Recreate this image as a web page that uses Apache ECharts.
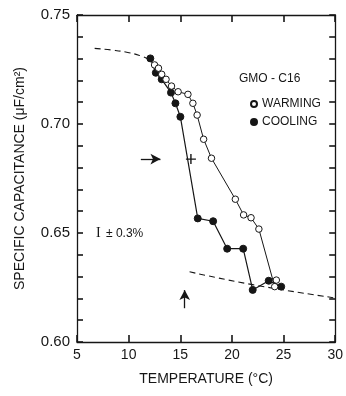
<!DOCTYPE html>
<html>
<head>
<meta charset="utf-8">
<script src="https://cdn.jsdelivr.net/npm/echarts@6/dist/echarts.min.js"></script>
<style>
  html, body { margin: 0; padding: 0; background: #fff; }
  #chart { width: 346px; height: 396px; }
</style>
</head>
<body>
<div id="chart"></div>
<script>
// temperature (C), specific capacitance (uF/cm2)
const warming = [
  [12.51, 0.7271], [12.89, 0.7256], [13.2, 0.7228], [13.62, 0.7205], [14.15, 0.7174],
  [14.79, 0.7148], [15.74, 0.7136], [16.22, 0.7095], [16.63, 0.7041], [17.26, 0.693],
  [18.02, 0.6843], [20.33, 0.6655], [21.13, 0.6583], [21.85, 0.657], [22.61, 0.6518],
  [24.14, 0.6254], [24.3, 0.6284]
]
const cooling = [
  [12.1, 0.7301], [12.63, 0.7235], [13.2, 0.7205], [14.1, 0.7144], [14.53, 0.7095],
  [15.01, 0.7033], [16.69, 0.6567], [18.18, 0.6554], [19.54, 0.6428], [21.09, 0.6428],
  [22.01, 0.6239], [23.56, 0.6281], [24.77, 0.6254]
]
const upperDashed = [[6.71, 0.7347], [8.45, 0.7339], [10.04, 0.7327], [11.15, 0.7313], [11.78, 0.7301]]
const lowerDashed = [[15.9, 0.6322], [22.0, 0.6263], [30.0, 0.6202]]
const crossPoint = [[16.03, 0.6839]]
const arrowRight = [[11.18, 0.6839], [13.08, 0.6839]]
const arrowUp = [[15.43, 0.6155], [15.43, 0.6238]]
const xTicks = [5, 10, 15, 20, 25, 30]
const yLabels = [0.6, 0.65, 0.7, 0.75]

const ink = '#161616'
const font = 'Liberation Sans'
const chart = echarts.init(document.getElementById('chart'))

// ticks point into the plot on all four sides
function xAxisBase() {
  return {
    type: 'value', min: 5, max: 30, interval: 5,
    axisLine: { show: true, lineStyle: { color: ink, width: 1.3 } },
    axisTick: { show: true, inside: true, length: 7, lineStyle: { color: ink, width: 1.6 } },
    splitLine: { show: false }
  }
}
function yAxisBase() {
  return {
    type: 'value', min: 0.6, max: 0.75, interval: 0.01,
    axisLine: { show: true, lineStyle: { color: ink, width: 1.3 } },
    axisTick: { show: true, inside: true, length: 6, lineStyle: { color: ink, width: 1.6 } },
    splitLine: { show: false }
  }
}

const option = {
  animation: false,
  grid: { left: 77, right: 6, top: 15, bottom: 54 },
  xAxis: [
    Object.assign(xAxisBase(), {
      position: 'bottom',
      name: 'TEMPERATURE (°C)', nameLocation: 'middle', nameGap: 30,
      nameTextStyle: { fontSize: 14, color: ink, fontFamily: font },
      axisLabel: {
        margin: 6, fontSize: 14, color: ink, fontFamily: font,
        formatter: v => (xTicks.includes(v) ? String(v) : '')
      }
    }),
    Object.assign(xAxisBase(), { position: 'top', axisLabel: { show: false } })
  ],
  yAxis: [
    Object.assign(yAxisBase(), {
      position: 'left',
      name: 'SPECIFIC CAPACITANCE (μF/cm²)', nameLocation: 'middle', nameGap: 50,
      nameTextStyle: { fontSize: 14, color: ink, fontFamily: font },
      axisLabel: {
        margin: 7, fontSize: 15, color: ink, fontFamily: font,
        formatter: v => {
          const hit = yLabels.find(l => Math.abs(l - v) < 1e-6)
          return hit !== undefined ? hit.toFixed(2) : ''
        }
      }
    }),
    Object.assign(yAxisBase(), { position: 'right', axisLabel: { show: false } })
  ],
  legend: {
    orient: 'vertical', left: 245, top: 93, itemGap: 6,
    itemWidth: 6, itemHeight: 6, icon: 'circle',
    textStyle: { fontSize: 12, color: ink, fontFamily: font },
    data: ['WARMING', 'COOLING']
  },
  graphic: [
    { type: 'text', left: 239, top: 73, style: { text: 'GMO - C16', font: '12px "Liberation Sans"', fill: ink } },
    { type: 'text', left: 96, top: 226, style: { text: 'I', font: '14px "Liberation Serif"', fill: ink } },
    { type: 'text', left: 106, top: 228, style: { text: '± 0.3%', font: '12px "Liberation Sans"', fill: ink } }
  ],
  series: [
    {
      name: 'upper', type: 'line', data: upperDashed, symbol: 'none', smooth: true,
      lineStyle: { color: ink, width: 1.1, type: [6, 4] }, silent: true, z: 1
    },
    {
      name: 'lower', type: 'line', data: lowerDashed, symbol: 'none', smooth: true,
      lineStyle: { color: ink, width: 1.1, type: [6, 4] }, silent: true, z: 1
    },
    {
      name: 'WARMING', type: 'line', data: warming,
      symbol: 'circle', symbolSize: 6.5,
      itemStyle: { color: '#fff', borderColor: ink, borderWidth: 1 },
      lineStyle: { color: ink, width: 1 }, z: 3
    },
    {
      name: 'COOLING', type: 'line', data: cooling,
      symbol: 'circle', symbolSize: 7,
      itemStyle: { color: ink, borderColor: ink, borderWidth: 1 },
      lineStyle: { color: ink, width: 1.2 }, z: 2
    },
    {
      name: 'cross', type: 'scatter', data: crossPoint,
      symbol: 'path://M4.3,0h1.4v4.3h4.3v1.4h-4.3v4.3h-1.4v-4.3h-4.3v-1.4h4.3z', symbolSize: 10,
      itemStyle: { color: ink, opacity: 1 }, z: 4
    },
    {
      name: 'arrows', type: 'line', data: [], symbol: 'none',
      markLine: {
        silent: true, symbol: ['none', 'arrow'], symbolSize: [8, 10],
        label: { show: false },
        lineStyle: { color: ink, width: 1.3, type: 'solid' },
        data: [
          [{ coord: arrowRight[0] }, { coord: arrowRight[1] }],
          [{ coord: arrowUp[0] }, { coord: arrowUp[1] }]
        ]
      }
    }
  ]
}
chart.setOption(option)
</script>
</body>
</html>
